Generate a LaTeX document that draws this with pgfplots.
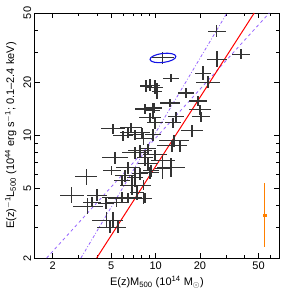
\documentclass[border=0pt]{standalone}
\usepackage{fontspec}
\setmainfont{Liberation Sans}
\usepackage{pgfplots}
\pgfplotsset{compat=1.18}
\usepackage{pgfplotstable}

\definecolor{lpurple}{RGB}{150,100,255}
\definecolor{dorange}{RGB}{255,128,0}
\definecolor{eblue}{RGB}{20,20,230}

\pgfplotstableread{
x y exp exm eyp eym
25.97 39.26 0.151 0.131 0.082 0.076
37.97 29.07 0.151 0.131 0.068 0.063
26.09 27.23 0.169 0.145 0.110 0.099
20.96 22.68 0.133 0.118 0.096 0.087
22.66 20.17 0.206 0.171 0.082 0.076
12.71 21.25 0.133 0.118 0.054 0.051
9.155 19.39 0.169 0.145 0.082 0.076
9.90 18.89 0.133 0.118 0.096 0.087
8.60 19.14 0.098 0.089 0.082 0.076
10.21 17.93 0.081 0.075 0.110 0.099
16.07 17.47 0.133 0.118 0.068 0.063
12.51 15.33 0.169 0.145 0.054 0.051
19.39 15.73 0.151 0.131 0.068 0.063
20.00 13.99 0.188 0.158 0.068 0.063
9.74 14.36 0.133 0.118 0.068 0.063
8.47 14.17 0.169 0.145 0.068 0.063
9.59 13.81 0.116 0.104 0.110 0.099
13.74 12.77 0.133 0.118 0.068 0.063
20.32 12.77 0.151 0.131 0.068 0.063
9.155 12.60 0.188 0.158 0.068 0.063
9.90 11.80 0.133 0.118 0.082 0.076
13.11 11.80 0.133 0.118 0.068 0.063
5.132 10.91 0.206 0.171 0.068 0.063
6.80 11.06 0.188 0.158 0.068 0.063
6.49 10.36 0.133 0.118 0.068 0.063
8.08 10.36 0.133 0.118 0.068 0.063
17.65 10.63 0.188 0.158 0.082 0.076
6.00 9.96 0.169 0.145 0.068 0.063
7.24 10.09 0.133 0.118 0.068 0.063
9.59 10.09 0.133 0.118 0.082 0.076
13.32 9.33 0.264 0.209 0.082 0.076
8.33 9.58 0.133 0.118 0.082 0.076
12.91 8.74 0.264 0.209 0.082 0.076
14.63 8.74 0.098 0.089 0.082 0.076
5.30 7.47 0.225 0.184 0.082 0.076
7.24 7.98 0.225 0.184 0.082 0.076
7.83 8.19 0.206 0.171 0.082 0.076
8.47 7.47 0.133 0.118 0.110 0.099
8.87 8.41 0.133 0.118 0.068 0.063
11.21 7.19 0.206 0.171 0.068 0.063
9.90 7.77 0.206 0.171 0.068 0.063
12.71 6.56 0.245 0.196 0.139 0.122
11.21 6.47 0.133 0.118 0.139 0.122
9.30 6.31 0.133 0.118 0.082 0.076
6.49 6.56 0.206 0.171 0.082 0.076
8.87 6.91 0.169 0.145 0.082 0.076
3.37 5.83 0.188 0.158 0.110 0.099
6.19 5.91 0.169 0.145 0.082 0.076
7.24 5.76 0.133 0.118 0.139 0.122
7.83 6.06 0.133 0.118 0.082 0.076
9.155 6.14 0.151 0.131 0.082 0.076
5.91 5.53 0.133 0.118 0.068 0.063
6.91 5.19 0.206 0.171 0.139 0.122
8.33 5.19 0.116 0.104 0.068 0.063
5.05 6.31 0.151 0.131 0.068 0.063
5.91 4.43 0.367 0.268 0.068 0.063
7.47 4.73 0.116 0.104 0.110 0.099
8.33 4.38 0.133 0.118 0.082 0.076
2.70 4.55 0.206 0.171 0.110 0.099
4.00 4.55 0.169 0.145 0.082 0.076
3.47 3.94 0.264 0.209 0.110 0.099
4.60 4.10 0.133 0.118 0.082 0.076
3.70 4.15 0.151 0.131 0.068 0.063
5.46 4.15 0.169 0.145 0.068 0.063
6.49 4.38 0.367 0.268 0.068 0.063
8.47 4.38 0.081 0.075 0.068 0.063
4.67 3.28 0.264 0.209 0.110 0.099
5.132 3.28 0.169 0.145 0.110 0.099
4.90 3.00 0.225 0.184 0.082 0.076
5.55 3.00 0.133 0.118 0.082 0.076
11.21 27.70 0.188 0.158 0.082 0.076
}\clusters

\begin{document}
\begin{tikzpicture}
\begin{axis}[
  name=ax,
  scale only axis,
  width=244.3pt, height=245pt,
  xmode=log, ymode=log,
  xmin=1.51, xmax=68.8, ymin=2, ymax=50,
  axis line style={line width=0.8pt},
  tick align=inside,
  major tick length=5pt, minor tick length=3pt,
  every tick/.style={black, line width=0.6pt},
  xtick={2,5,10,20,50}, xticklabels={2,5,10,20,50},
  minor xtick={3,4,6,7,8,9,30,40,60},
  ytick={2,5,10,20,50}, yticklabels={2,5,10,20,50},
  minor ytick={3,4,6,7,8,9,30,40},
  tick label style={font=\fontsize{11}{12}\selectfont},
  yticklabel style={rotate=90, anchor=south},
  label style={font=\fontsize{11}{12}\selectfont},
  xlabel={E(z)M\textsubscript{500} (10\textsuperscript{14} M$_\odot$)},
  ylabel={E(z)\textsuperscript{$-$1}L\textsubscript{500} (10\textsuperscript{44} erg s\textsuperscript{$-$1}; 0.1--2.4 keV)},
]
\addplot[lpurple, line width=0.8pt, dashed] coordinates {(1.82,2) (59.1,50)};
\addplot[lpurple, line width=0.8pt, dash dot] coordinates {(3.11,2) (30.5,50)};
\addplot[red, line width=1pt] coordinates {(3.98,2) (46.7,50)};
\addplot[draw=none, mark=none,
  error bars/.cd, x dir=both, x explicit relative, y dir=both, y explicit relative,
  error mark=none, error bar style={line width=1.1pt, black!80}]
  table[x=x, y=y, x error plus=exp, x error minus=exm, y error plus=eyp, y error minus=eym] {\clusters};
\addplot[dorange, mark=square*, mark size=1.4pt,
  error bars/.cd, y dir=both, y explicit, error mark=none,
  error bar style={line width=0.8pt, dorange}]
  coordinates {(54.7,3.51) += (0,1.84) -= (0,1.19)};
\draw[eblue, line width=1.1pt, rotate around={7:(axis cs:11.21,27.7)}] (axis cs:11.21,27.7) ellipse (13pt and 4.5pt);
\end{axis}
\pgfresetboundingbox
\path ([shift={(-34.7pt,-33pt)}]ax.south west) rectangle ([shift={(3pt,13pt)}]ax.north east);
\end{tikzpicture}
\end{document}
